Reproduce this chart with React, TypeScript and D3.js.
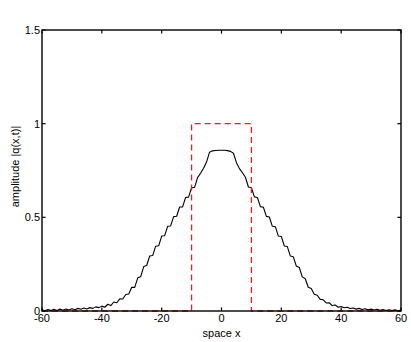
import React from 'react';
import * as d3 from 'd3';

// amplitude |q(x,t)|, one value per unit of x from -60 to 60
const amplitude = [
  0.007, 0.001, 0.008, 0.002, 0.009, 0.003, 0.010, 0.004, 0.011, 0.005,
  0.012, 0.007, 0.014, 0.009, 0.016, 0.011, 0.018, 0.014, 0.022, 0.018,
  0.026, 0.020, 0.036, 0.029, 0.048, 0.044, 0.065, 0.064, 0.088, 0.091,
  0.127, 0.126, 0.177, 0.183, 0.237, 0.243, 0.294, 0.296, 0.346, 0.348,
  0.400, 0.402, 0.452, 0.454, 0.504, 0.506, 0.555, 0.556, 0.606, 0.608,
  0.658, 0.660, 0.712, 0.735, 0.762, 0.795, 0.848, 0.855, 0.857, 0.858,
  0.858,
  0.858, 0.856, 0.852, 0.842, 0.792, 0.760, 0.738, 0.714, 0.662, 0.658,
  0.609, 0.606, 0.557, 0.554, 0.505, 0.502, 0.452, 0.450, 0.400, 0.398,
  0.347, 0.344, 0.294, 0.290, 0.240, 0.232, 0.182, 0.172, 0.127, 0.120,
  0.090, 0.084, 0.062, 0.060, 0.043, 0.044, 0.029, 0.032, 0.020, 0.024,
  0.017, 0.020, 0.013, 0.016, 0.010, 0.014, 0.008, 0.012, 0.006, 0.010,
  0.005, 0.009, 0.004, 0.008, 0.003, 0.007, 0.002, 0.006, 0.001, 0.005,
];
const xStart = -60;

// initial condition (red dashed box)
const initX = [-60, -10, -10, 10, 10, 60];
const initY = [0, 0, 1, 1, 0, 0];

const xTicks = [-60, -40, -20, 0, 20, 40, 60];
const yTicks = [0, 0.5, 1, 1.5];

const W = 411;
const H = 342;
const margin = { left: 42, right: 10, top: 30, bottom: 31 };
const font = '"Liberation Sans", Arial, Helvetica, sans-serif';

export default function App() {
  const x = d3.scaleLinear().domain([-60, 60]).range([margin.left, W - margin.right]);
  const y = d3.scaleLinear().domain([0, 1.5]).range([H - margin.bottom, margin.top]);

  const line = d3.line<[number, number]>()
    .x(d => x(d[0]))
    .y(d => y(d[1]));

  const curvePts: [number, number][] = amplitude.map((v, i) => [xStart + i, v]);
  const initPts: [number, number][] = initX.map((v, i) => [v, initY[i]]);

  const x0 = x(-60), x1 = x(60), y0 = y(0), y1 = y(1.5);
  const tick = 3.6;

  return (
    <svg width={W} height={H} style={{ position: 'absolute', left: 0, top: 0, background: '#fff' }}
      fontFamily={font}>
      <rect x={0} y={0} width={W} height={H} fill="#fff" />

      <path d={line(curvePts) || ''} fill="none" stroke="#000" strokeWidth={1.1} strokeLinejoin="round" />
      <path d={line(initPts) || ''} fill="none" stroke="#ff1a1a" strokeWidth={1.3} strokeDasharray="6,4" />

      {/* ticks, inward on all four sides */}
      {xTicks.map(t => (
        <g key={'xt' + t}>
          <line x1={x(t)} x2={x(t)} y1={y0} y2={y0 - tick} stroke="#000" strokeWidth={1.2} />
          <line x1={x(t)} x2={x(t)} y1={y1} y2={y1 + tick} stroke="#000" strokeWidth={1.2} />
          <text x={x(t)} y={y0 + 11} textAnchor="middle" fontSize={11}>{t}</text>
        </g>
      ))}
      {yTicks.map(t => (
        <g key={'yt' + t}>
          <line x1={x0} x2={x0 + tick} y1={y(t)} y2={y(t)} stroke="#000" strokeWidth={1.2} />
          <line x1={x1} x2={x1 - tick} y1={y(t)} y2={y(t)} stroke="#000" strokeWidth={1.2} />
          <text x={x0 - 2} y={y(t) + 4} textAnchor="end" fontSize={11}>{t}</text>
        </g>
      ))}

      <rect x={x0} y={y1} width={x1 - x0} height={y0 - y1} fill="none" stroke="#000" strokeWidth={1.4} />

      <text x={(x0 + x1) / 2} y={H - 5} textAnchor="middle" fontSize={11}>space x</text>
      <text transform={`translate(19,${(y0 + y1) / 2 - 4}) rotate(-90)`} textAnchor="middle" fontSize={11}>
        amplitude |q(x,t)|
      </text>
    </svg>
  );
}
